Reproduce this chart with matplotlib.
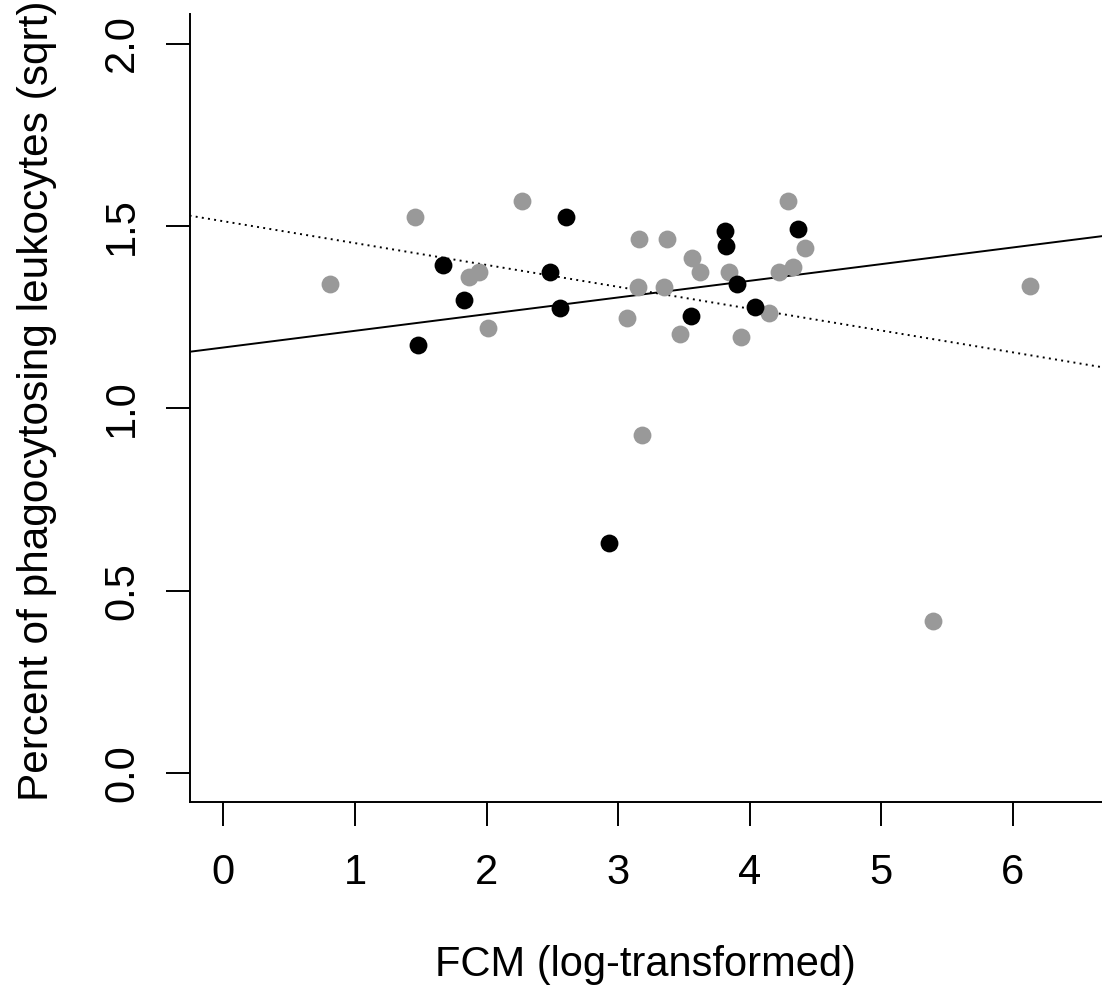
import matplotlib
matplotlib.use("Agg")
import matplotlib.pyplot as plt

# FCM (log) vs sqrt percent phagocytosing leukocytes, two groups
grey_x = [0.81, 1.46, 1.87, 1.94, 2.01, 2.27, 3.07, 3.16, 3.15, 3.18, 3.37, 3.35,
          3.56, 3.62, 3.47, 3.84, 3.93, 4.15, 4.29, 4.22, 4.33, 4.42, 6.13, 5.39]
grey_y = [1.341, 1.525, 1.361, 1.375, 1.221, 1.568, 1.249, 1.464, 1.334, 0.927, 1.463, 1.334,
          1.411, 1.373, 1.203, 1.373, 1.196, 1.262, 1.568, 1.375, 1.387, 1.439, 1.335, 0.418]

black_x = [1.48, 1.67, 1.83, 2.48, 2.56, 2.60, 2.93, 3.55, 3.81, 3.82, 3.90, 4.04, 4.37]
black_y = [1.174, 1.393, 1.297, 1.373, 1.274, 1.525, 0.630, 1.253, 1.486, 1.446, 1.341, 1.279, 1.492]

# fitted lines (intercept, slope)
black_fit = (1.167, 0.0457)
grey_fit = (1.513, -0.0599)

x_ticks = [0, 1, 2, 3, 4, 5, 6]
y_ticks = [0.0, 0.5, 1.0, 1.5, 2.0]
y_tick_labels = ["0.0", "0.5", "1.0", "1.5", "2.0"]

plt.rcParams["font.family"] = ["Liberation Sans", "DejaVu Sans"]

fig = plt.figure(figsize=(11.02, 9.86), dpi=100)
ax = fig.add_axes([0.172, 0.1866, 0.828, 0.7992])

ax.scatter(grey_x, grey_y, s=165, color="#999999", linewidths=0, zorder=3)
ax.scatter(black_x, black_y, s=165, color="black", linewidths=0, zorder=3)

ax.axline((0, black_fit[0]), slope=black_fit[1], color="black", lw=1.4, zorder=2)
ax.axline((0, grey_fit[0]), slope=grey_fit[1], color="black", lw=1.4,
          linestyle=(0, (1, 2.2)), zorder=2)

ax.set_xlim(-0.257, 6.677)
ax.set_ylim(-0.0787, 2.081)

for side in ("top", "right"):
    ax.spines[side].set_visible(False)
for side in ("left", "bottom"):
    ax.spines[side].set_linewidth(1.4)

ax.set_xticks(x_ticks)
ax.set_yticks(y_ticks)
ax.set_yticklabels(y_tick_labels, rotation=90, va="center")
ax.tick_params(axis="both", direction="out", length=17, width=1.4, labelsize=30)
ax.tick_params(axis="x", pad=20)
ax.tick_params(axis="y", pad=17)

ax.set_xlabel("FCM (log-transformed)", fontsize=30)
ax.xaxis.set_label_coords(0.5, -0.181)
ax.xaxis.label.set_va("top")
fig.text(37 / 1102, 1 - 401 / 986, "Percent of phagocytosing leukocytes (sqrt)",
         rotation=90, ha="center", va="center", fontsize=30.5)

fig.savefig("out.png", dpi=100)
